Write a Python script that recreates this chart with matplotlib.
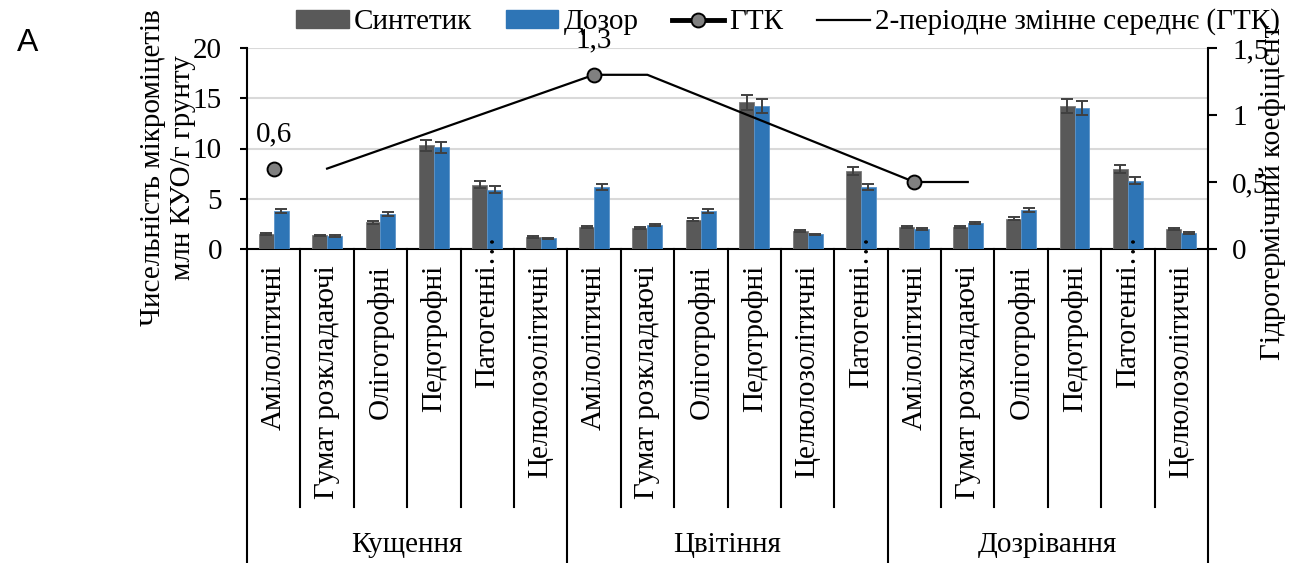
import numpy as np
import matplotlib
matplotlib.use("Agg")
import matplotlib.pyplot as plt
from matplotlib.lines import Line2D
from matplotlib.patches import Patch
from matplotlib.transforms import blended_transform_factory

plt.rcParams['font.family'] = ['Liberation Serif', 'DejaVu Serif']
FS = 21

# --- data ---
phases = ["Кущення", "Цвітіння", "Дозрівання"]
groups = [
    ["Амілолітичні", "Гумат розкладаючі", "Оліготрофні", "Педотрофні", "Патогенні…", "Целюлозолітичні"],
    ["Амілолітичні", "Гумат розкладаючі", "Оліготрофні", "Педотрофні", "Целюлозолітичні", "Патогенні…"],
    ["Амілолітичні", "Гумат розкладаючі", "Оліготрофні", "Педотрофні", "Патогенні…", "Целюлозолітичні"],
]
synthetic = [1.5, 1.35, 2.65, 10.3, 6.4, 1.2,
             2.2, 2.1, 2.9, 14.6, 1.8, 7.8,
             2.15, 2.2, 3.0, 14.2, 8.0, 1.95]
synthetic_err = [0.1, 0.08, 0.12, 0.5, 0.35, 0.08,
                 0.12, 0.1, 0.15, 0.75, 0.1, 0.4,
                 0.1, 0.1, 0.15, 0.7, 0.4, 0.1]
dozor = [3.75, 1.3, 3.5, 10.1, 5.9, 1.05,
         6.2, 2.4, 3.8, 14.2, 1.45, 6.2,
         2.0, 2.6, 3.9, 14.0, 6.8, 1.6]
dozor_err = [0.2, 0.08, 0.18, 0.5, 0.32, 0.06,
             0.3, 0.12, 0.18, 0.7, 0.08, 0.3,
             0.1, 0.13, 0.2, 0.7, 0.35, 0.08]
gtk_pos = [0, 6, 12]
gtk = [0.6, 1.3, 0.5]
gtk_labels = ["0,6", "1,3", ""]
ma_pos = [1, 6, 7, 12, 13]
ma = [0.6, 1.3, 1.3, 0.5, 0.5]

c_gray = "#595959"
c_blue = "#2E75B6"
c_err = "#404040"

W, H = 1294, 563
fig = plt.figure(figsize=(W / 100, H / 100), dpi=100)
ax = fig.add_axes([247 / W, 1 - 249 / H, (1208 - 247) / W, (249 - 48) / H])
ax2 = ax.twinx()

x = np.arange(len(synthetic))
bw = 0.28
ekw = dict(ecolor=c_err, elinewidth=1.4, capsize=4, capthick=1.4)
ax.bar(x - bw / 2, synthetic, bw, color=c_gray, edgecolor="#7a7a7a", linewidth=0.6,
       yerr=synthetic_err, error_kw=ekw, zorder=3)
ax.bar(x + bw / 2, dozor, bw, color=c_blue, edgecolor="#5b93c9", linewidth=0.6,
       yerr=dozor_err, error_kw=ekw, zorder=3)

ax.set_xlim(-0.5, len(x) - 0.5)
ax.set_ylim(0, 20)
ax.set_yticks([0, 5, 10, 15, 20])
ax.grid(axis="y", color="#d9d9d9", linewidth=1.5, zorder=0)
ax.set_axisbelow(True)
ax.set_xticks([])
for s in ["top", "right"]:
    ax.spines[s].set_visible(False)
ax.spines["left"].set_linewidth(1.5)
ax.spines["bottom"].set_linewidth(1.5)
ax.tick_params(axis="y", labelsize=FS, length=5, width=1.5, pad=13)

# GTK on secondary axis
ax2.set_ylim(0, 1.5)
ax2.set_yticks([0, 0.5, 1, 1.5])
ax2.set_yticklabels(["0", "0,5", "1", "1,5"])
ax2.tick_params(axis="y", labelsize=FS, length=6.5, width=1.5, pad=11)
for s in ["top", "left", "bottom"]:
    ax2.spines[s].set_visible(False)
ax2.spines["right"].set_linewidth(1.5)
ax2.plot(ma_pos, ma, color="black", lw=1.6, zorder=4)
ax2.plot(gtk_pos, gtk, ls="none", marker="o", ms=10, mfc="#808080", mec="black",
         mew=1.4, zorder=5)
for px, py, t in zip(gtk_pos, gtk, gtk_labels):
    ax2.annotate(t, (px, py), xytext=(0, 25), textcoords="offset points",
                 ha="center", va="center", fontsize=FS)

# multi-level category axis
tr = blended_transform_factory(ax.transData, fig.transFigure)
y_axis = 1 - 249 / H
y_inner = 1 - 507 / H
for i, names in enumerate(groups):
    for j, name in enumerate(names):
        k = i * 6 + j
        if name.endswith("…"):
            fig.text(k, 1 - 388 / H, name, transform=tr, rotation=90,
                     ha="center", va="bottom", fontsize=FS)
        else:
            fig.text(k, 1 - 265 / H, name, transform=tr, rotation=90,
                     ha="center", va="top", fontsize=FS)
        if j > 0:
            fig.add_artist(Line2D([k - 0.5, k - 0.5], [y_axis, y_inner],
                                  transform=tr, color="black", lw=1.5))
    fig.text(i * 6 + 2.5, 1 - 545 / H, phases[i], transform=tr,
             ha="center", va="center", fontsize=FS)
for b in [-0.5, 5.5, 11.5, 17.5]:
    fig.add_artist(Line2D([b, b], [y_axis, 0], transform=tr, color="black", lw=1.5))

# axis titles
fig.text(168 / W, 1 - 168 / H, "Чисельність мікроміцетів\nмлн КУО/г грунту",
         rotation=90, ha="center", va="center", fontsize=FS, linespacing=1.15)
fig.text(1272 / W, 1 - 192 / H, "Гідротермічний коефіцієнт",
         rotation=90, ha="center", va="center", fontsize=FS)

# legend
handles = [
    Patch(color=c_gray),
    Patch(color=c_blue),
    Line2D([], [], color="black", lw=3.5, marker="o", ms=10, mfc="#808080", mec="black", mew=1.4),
    Line2D([], [], color="black", lw=1.6),
]
labels = ["Синтетик", "Дозор", "ГТК", "2-періодне змінне середнє (ГТК)"]
fig.legend(handles, labels, loc="center left", bbox_to_anchor=(296 / W, 1 - 22 / H),
           ncol=4, frameon=False, fontsize=FS, handlelength=1.8, handleheight=0.55,
           handletextpad=0.18, columnspacing=1.15, borderpad=0, borderaxespad=0)

fig.text(28 / W, 1 - 43 / H, "A", family="Liberation Sans", fontsize=23,
         ha="center", va="center")

fig.savefig("out.png", dpi=100)
